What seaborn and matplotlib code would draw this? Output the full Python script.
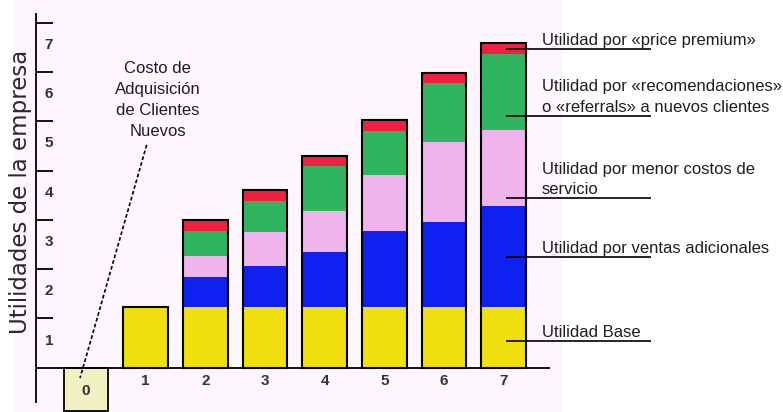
import numpy as np
import pandas as pd
import matplotlib
matplotlib.use("Agg")
import matplotlib.pyplot as plt
import seaborn as sns

# ---- data -------------------------------------------------------------
years = [1, 2, 3, 4, 5, 6, 7]
utilidad_base = [1.23, 1.23, 1.23, 1.23, 1.23, 1.23, 1.23]
ventas_adicionales = [0.00, 0.60, 0.84, 1.12, 1.54, 1.73, 2.06]
menor_costos = [0.00, 0.43, 0.68, 0.83, 1.14, 1.61, 1.53]
recomendaciones = [0.00, 0.51, 0.63, 0.91, 0.90, 1.20, 1.54]
price_premium = [0.00, 0.23, 0.22, 0.20, 0.21, 0.20, 0.22]
costo_adquisicion = [-0.87]   # year 0

y_ticks = [1, 2, 3, 4, 5, 6, 7]
x_labels = ["0", "1", "2", "3", "4", "5", "6", "7"]

layer_names = [
    "Utilidad Base",
    "Utilidad por ventas adicionales",
    "Utilidad por menor costos de\nservicio",
    "Utilidad por «recomendaciones»\no «referrals» a nuevos clientes",
    "Utilidad por «price premium»",
]
cost_label = "Costo de\nAdquisición\nde Clientes\nNuevos"
y_title = "Utilidades de la empresa"

# ---- style ------------------------------------------------------------
sns.set_style("white")
plt.rcParams["font.family"] = ["Liberation Sans", "DejaVu Sans"]

layer_colors = ["#f0e010", "#1020f0", "#f0b4ec", "#30b460", "#f02040"]
cost_color = "#f0f0c0"
panel_color = "#fdf6fd"
ink = "#1e1e1e"
BAR_W = 0.75

fig = plt.figure(figsize=(7.83, 4.12), dpi=100)
fig.patch.set_facecolor("white")
ax = fig.add_axes([15 / 783, 0, 548 / 783, 1])
ax.set_facecolor(panel_color)

df = pd.DataFrame({
    "year": years,
    "base": utilidad_base,
    "ventas": ventas_adicionales,
    "menor": menor_costos,
    "recom": recomendaciones,
    "premium": price_premium,
})
layers = ["base", "ventas", "menor", "recom", "premium"]
cum = df[layers].cumsum(axis=1)

# stacked segments: draw cumulative heights from the top layer down
for col, color in reversed(list(zip(layers, layer_colors))):
    sns.barplot(x=df["year"], y=cum[col], color=color, saturation=1,
                native_scale=True, width=BAR_W, linewidth=0, errorbar=None,
                ax=ax, zorder=2)

# black outline round each full bar
sns.barplot(x=df["year"], y=cum["premium"], color="black", fill=False,
            native_scale=True, width=BAR_W, linewidth=1.5, errorbar=None,
            ax=ax, zorder=3)

# year 0: acquisition cost below the axis
sns.barplot(x=[0], y=costo_adquisicion, color=cost_color, saturation=1,
            native_scale=True, width=BAR_W, edgecolor="black", linewidth=1.3,
            errorbar=None, ax=ax, zorder=2)

ax.set_xlim(-1.19, 7.994)
ax.set_ylim(-0.899, 7.46)
ax.set_xticks([])
ax.set_yticks([])
ax.set_xlabel("")
ax.set_ylabel("")
for s in ax.spines.values():
    s.set_visible(False)

# hand-drawn style axes
ax.plot([-0.838, -0.838], [-0.72, 7.2], color="black", lw=1.3, zorder=4,
        solid_capstyle="butt")
ax.plot([-0.838, 7.776], [0, 0], color="black", lw=1.3, zorder=4,
        solid_capstyle="butt")
for t in y_ticks:
    ax.plot([-0.838, -0.553], [t, t], color="black", lw=1.3, zorder=4,
            solid_capstyle="butt")
    ax.text(-0.62, t - 0.45, str(t), ha="center", va="center",
            fontsize=11, fontweight="bold", color="#333333")

for i, lab in enumerate(x_labels):
    ty = -0.47 if i == 0 else -0.28
    ax.text(i, ty, lab, ha="center", va="center", fontsize=11,
            fontweight="bold", color="#333333", zorder=5)

ax.text(-1.105, 3.56, y_title, rotation=90, ha="center", va="center",
        fontsize=16.5, color="#2a2a2a", family=["DejaVu Sans"])

# acquisition cost callout
ax.text(1.198, 5.44, cost_label, ha="center", va="center",
        multialignment="center", fontsize=12, color=ink, linespacing=1.5)
ax.plot([1.017, -0.10], [4.52, -0.21], color="black", lw=1.2,
        linestyle=(0, (2.2, 1.4)), zorder=5)

# leader lines and labels for the layers of year 7
leader_y = [0.55, 2.25, 3.44, 5.11, 6.46]
for name, ly in zip(layer_names, leader_y):
    ax.plot([7.04, 9.47], [ly, ly], color="black", lw=1.2, zorder=6,
            clip_on=False, solid_capstyle="butt")
    ax.text(7.64, ly + 0.02, name, ha="left", va="bottom", fontsize=12,
            color=ink, linespacing=1.45, clip_on=False, zorder=6)

fig.savefig("out.png", dpi=100, facecolor="white")
